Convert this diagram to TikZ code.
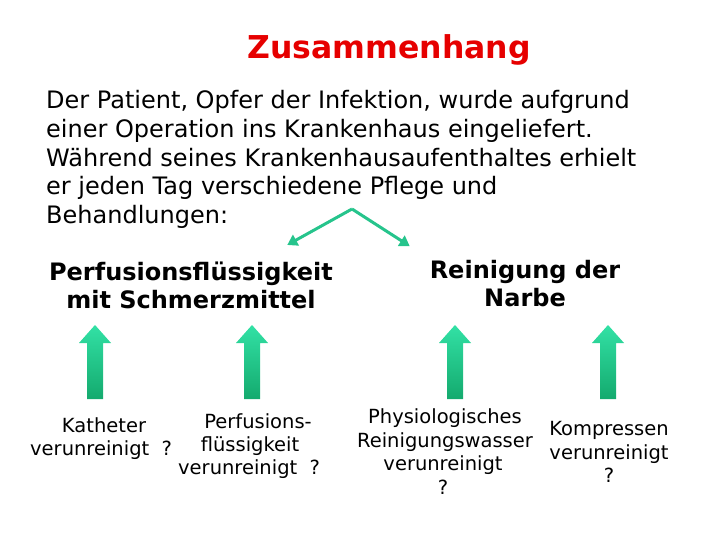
\documentclass[tikz,border=0pt]{standalone}
\usepackage{fontspec}
\setmainfont{DejaVu Sans}
\usetikzlibrary{arrows.meta}
\definecolor{titlered}{RGB}{230,0,0}
\definecolor{teal}{RGB}{38,196,140}
\definecolor{arrtop}{RGB}{50,225,165}
\definecolor{arrbot}{RGB}{20,170,110}
\begin{document}
\begin{tikzpicture}[x=1pt,y=-1pt,
  body/.style={font=\fontsize{24}{28.8}\selectfont, align=left, inner sep=0pt},
  head/.style={font=\fontsize{24}{28}\selectfont\bfseries, align=center, inner sep=0pt},
  small/.style={font=\fontsize{19.5}{23.5}\selectfont, inner sep=0pt, text height=0.72em, text depth=0.2em},
  conn/.style={draw=teal, line width=3pt, -{Triangle[length=10pt,width=12pt]}, shorten >=-2pt},
  blockarrow/.style={top color=arrtop, bottom color=arrbot, draw=none}]
\useasboundingbox (0,0) rectangle (720,540);
\node[font=\fontsize{31.5}{36}\selectfont\bfseries, text=titlered, inner sep=0pt, text height=0.72em, text depth=0.2em] (title) at (389,56) {Zusammenhang};
\node[body, anchor=north west] (txt) at (46,90) {Der Patient, Opfer der Infektion, wurde aufgrund\\einer Operation ins Krankenhaus eingeliefert.\\Während seines Krankenhausaufenthaltes erhielt\\er jeden Tag verschiedene Pflege und\\Behandlungen:};
\coordinate (apex) at (352,209);
\node[head] (h1) at (191,285) {Perfusionsflüssigkeit\\mit Schmerzmittel};
\node[head] (h2) at (525,284) {Reinigung der\\Narbe};
\coordinate (e1) at (289,244);
\coordinate (e2) at (408,245);
\draw[conn] (apex) -- (e1);
\draw[conn] (apex) -- (e2);
% block arrows
\foreach \cx/\nm in {95/b1,252/b2,455/b3,608/b4}{
  \path[blockarrow] (\cx-8,399) -- (\cx-8,343) -- (\cx-16,343) -- (\cx,325) -- (\cx+16,343) -- (\cx+8,343) -- (\cx+8,399) -- cycle;
  \coordinate (\nm) at (\cx,362);
}
\node[small] (k1) at (104,430) {Katheter};
\node[small, anchor=west] (k2) at (30,453) {verunreinigt\ \ ?};
\node[small] (p1) at (258,426) {Perfusions-};
\node[small] (p2) at (250,449) {flüssigkeit};
\node[small, anchor=west] (p3) at (178,472) {verunreinigt\ \ ?};
\node[small] (r1) at (445,421) {Physiologisches};
\node[small] (r2) at (445,445) {Reinigungswasser};
\node[small] (r3) at (443,468) {verunreinigt};
\node[small] (r4) at (443,492) {?};
\node[small] (c1) at (609,433) {Kompressen};
\node[small] (c2) at (609,457) {verunreinigt};
\node[small] (c3) at (609,480) {?};
\end{tikzpicture}
\end{document}
